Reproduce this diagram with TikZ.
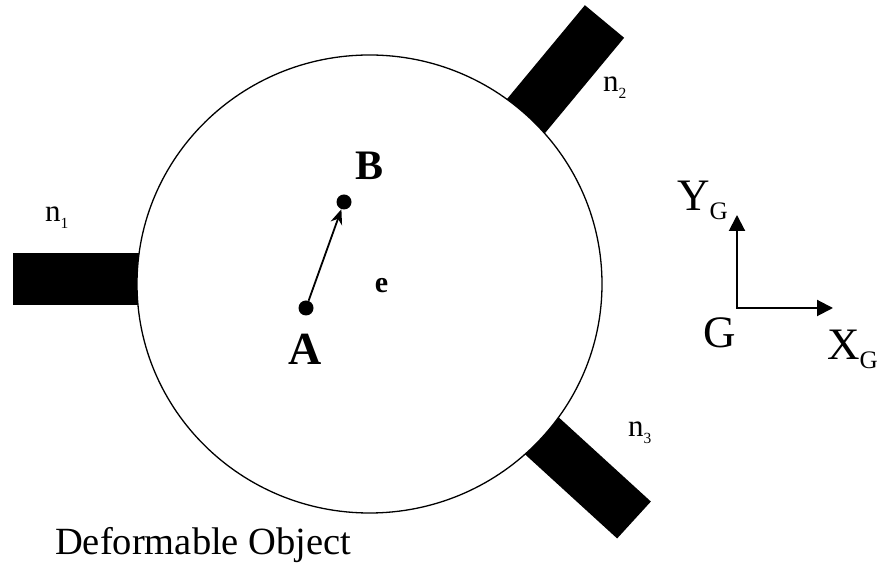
\documentclass[tikz,border=0pt]{standalone}
\usepackage{fontspec}
\setmainfont{Liberation Serif}
\usepackage{graphicx}
\usetikzlibrary{arrows.meta}
\newcommand{\lowsub}[2][0.5]{\raisebox{-0.2em}{\scalebox{#1}{#2}}}
\tikzset{dot/.style={circle,fill,inner sep=0pt,minimum size=15pt},
  lbl/.style={inner sep=0pt,anchor=base},
  lblw/.style={inner sep=0pt,anchor=base west},
  axis/.style={line width=2pt,{Triangle[length=16pt,width=16pt]}-{Triangle[length=16pt,width=16pt]}}}

\begin{document}
\begin{tikzpicture}[x=1pt,y=1pt]
\useasboundingbox (0,0) rectangle (883,567);

\fill (13,262) rectangle (250,314);
\fill[rotate around={50.3:(604.5,545.5)}] (404.5,520) rectangle (604.5,571);
\fill[rotate around={-42.4:(634,47)}] (434,22) rectangle (634,72);
\draw[line width=1.3pt,fill=white] (369.5,283) ellipse [x radius=232.5, y radius=229];

\node[dot] (A) at (306,259) {};
\node[dot] (B) at (344,365) {};
\draw[line width=1.8pt,-{Stealth[length=15pt,width=12pt]}] (A) -- (B);
\node[lbl,font=\bfseries\fontsize{46}{46}\selectfont] (lA) at (305.5,202) {A};
\node[lbl,font=\bfseries\fontsize{42}{42}\selectfont] (lB) at (370,387) {B};
\node[lbl,font=\bfseries\fontsize{30}{30}\selectfont] (le) at (381.5,274) {e};

\node[lblw,font=\fontsize{31}{31}\selectfont] (n1) at (45,345) {n\lowsub{1}};
\node[lblw,font=\fontsize{31}{31}\selectfont] (n2) at (603,475) {n\lowsub{2}};
\node[lblw,font=\fontsize{31}{31}\selectfont] (n3) at (628,130) {n\lowsub{3}};

\coordinate (G) at (737,259);
\coordinate (Yt) at (737,352);
\coordinate (Xt) at (833,259);
\draw[axis] (Yt) -- (G) -- (Xt);
\node[lblw,font=\fontsize{45}{45}\selectfont] (lY) at (677,356) {Y\lowsub[0.56]{G}};
\node[lblw,font=\fontsize{45}{45}\selectfont] (lG) at (703,219) {G};
\node[lblw,font=\fontsize{45}{45}\selectfont] (lX) at (827,207) {X\lowsub[0.56]{G}};

\node[lblw,font=\fontsize{38.5}{38.5}\selectfont] (obj) at (55,12) {Deformable Object};
\end{tikzpicture}
\end{document}
